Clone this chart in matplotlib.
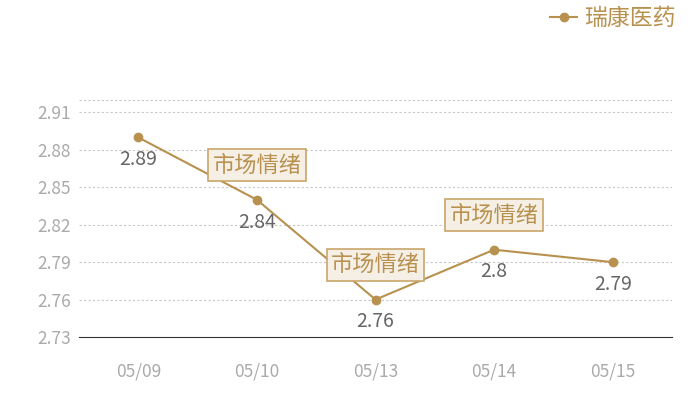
import matplotlib
matplotlib.use("Agg")
import matplotlib.pyplot as plt
from matplotlib.lines import Line2D

plt.rcParams['font.family'] = ['Noto Sans CJK SC', 'DejaVu Sans']

# 数据
dates = ['05/09', '05/10', '05/13', '05/14', '05/15']
prices = [2.89, 2.84, 2.76, 2.80, 2.79]
value_labels = ['2.89', '2.84', '2.76', '2.8', '2.79']
mark_idx = [1, 2, 3]
mark_text = '市场情绪'
series_name = '瑞康医药'
yticks = [2.73, 2.76, 2.79, 2.82, 2.85, 2.88, 2.91]

gold = '#b8914f'

fig = plt.figure(figsize=(7, 4), dpi=100)
ax = fig.add_axes([79/700, 1 - 337/400, (672-79)/700, (337-100)/400])

x = list(range(len(dates)))
ax.plot(x, prices, color=gold, lw=1.5, marker='o', ms=6, zorder=3)

ax.set_xlim(-0.5, len(dates) - 0.5)
ax.set_ylim(2.73, 2.92)
ax.set_yticks(yticks)
ax.set_yticklabels([f'{v:.2f}' for v in yticks])
ax.set_xticks(x)
ax.set_xticklabels(dates)

for v in yticks[1:] + [2.92]:
    ax.axhline(v, color='#c8c8c8', lw=0.8, ls=(0, (2, 2)), zorder=0)

for s in ['top', 'right', 'left']:
    ax.spines[s].set_visible(False)
ax.spines['bottom'].set_color('#333333')
ax.tick_params(axis='both', length=0, colors='#aaaaaa', labelsize=12.5)
ax.tick_params(axis='x', pad=18)
ax.tick_params(axis='y', pad=6)

# 数值标签
for xi, p, lab in zip(x, prices, value_labels):
    ax.annotate(lab, (xi, p), xytext=(0, -16), textcoords='offset points',
                ha='center', va='center', color='#666666', fontsize=14, zorder=4)

# 标注
for i in mark_idx:
    ax.annotate(mark_text, (x[i], prices[i]), xytext=(0, 25), textcoords='offset points',
                ha='center', va='center', color=gold, fontsize=16, zorder=5,
                bbox=dict(boxstyle='square,pad=0.2', fc='#f5efe6', ec='#c9a66b', lw=1.2))

# 图例
handle = Line2D([], [], color=gold, lw=1.5, marker='o', ms=6)
leg = fig.legend([handle], [series_name], loc='upper right', bbox_to_anchor=(0.995, 1.035),
                 frameon=False, fontsize=16.5, handlelength=1.2, handletextpad=0.3)
for t in leg.get_texts():
    t.set_color(gold)

fig.savefig('out.png', dpi=100)
